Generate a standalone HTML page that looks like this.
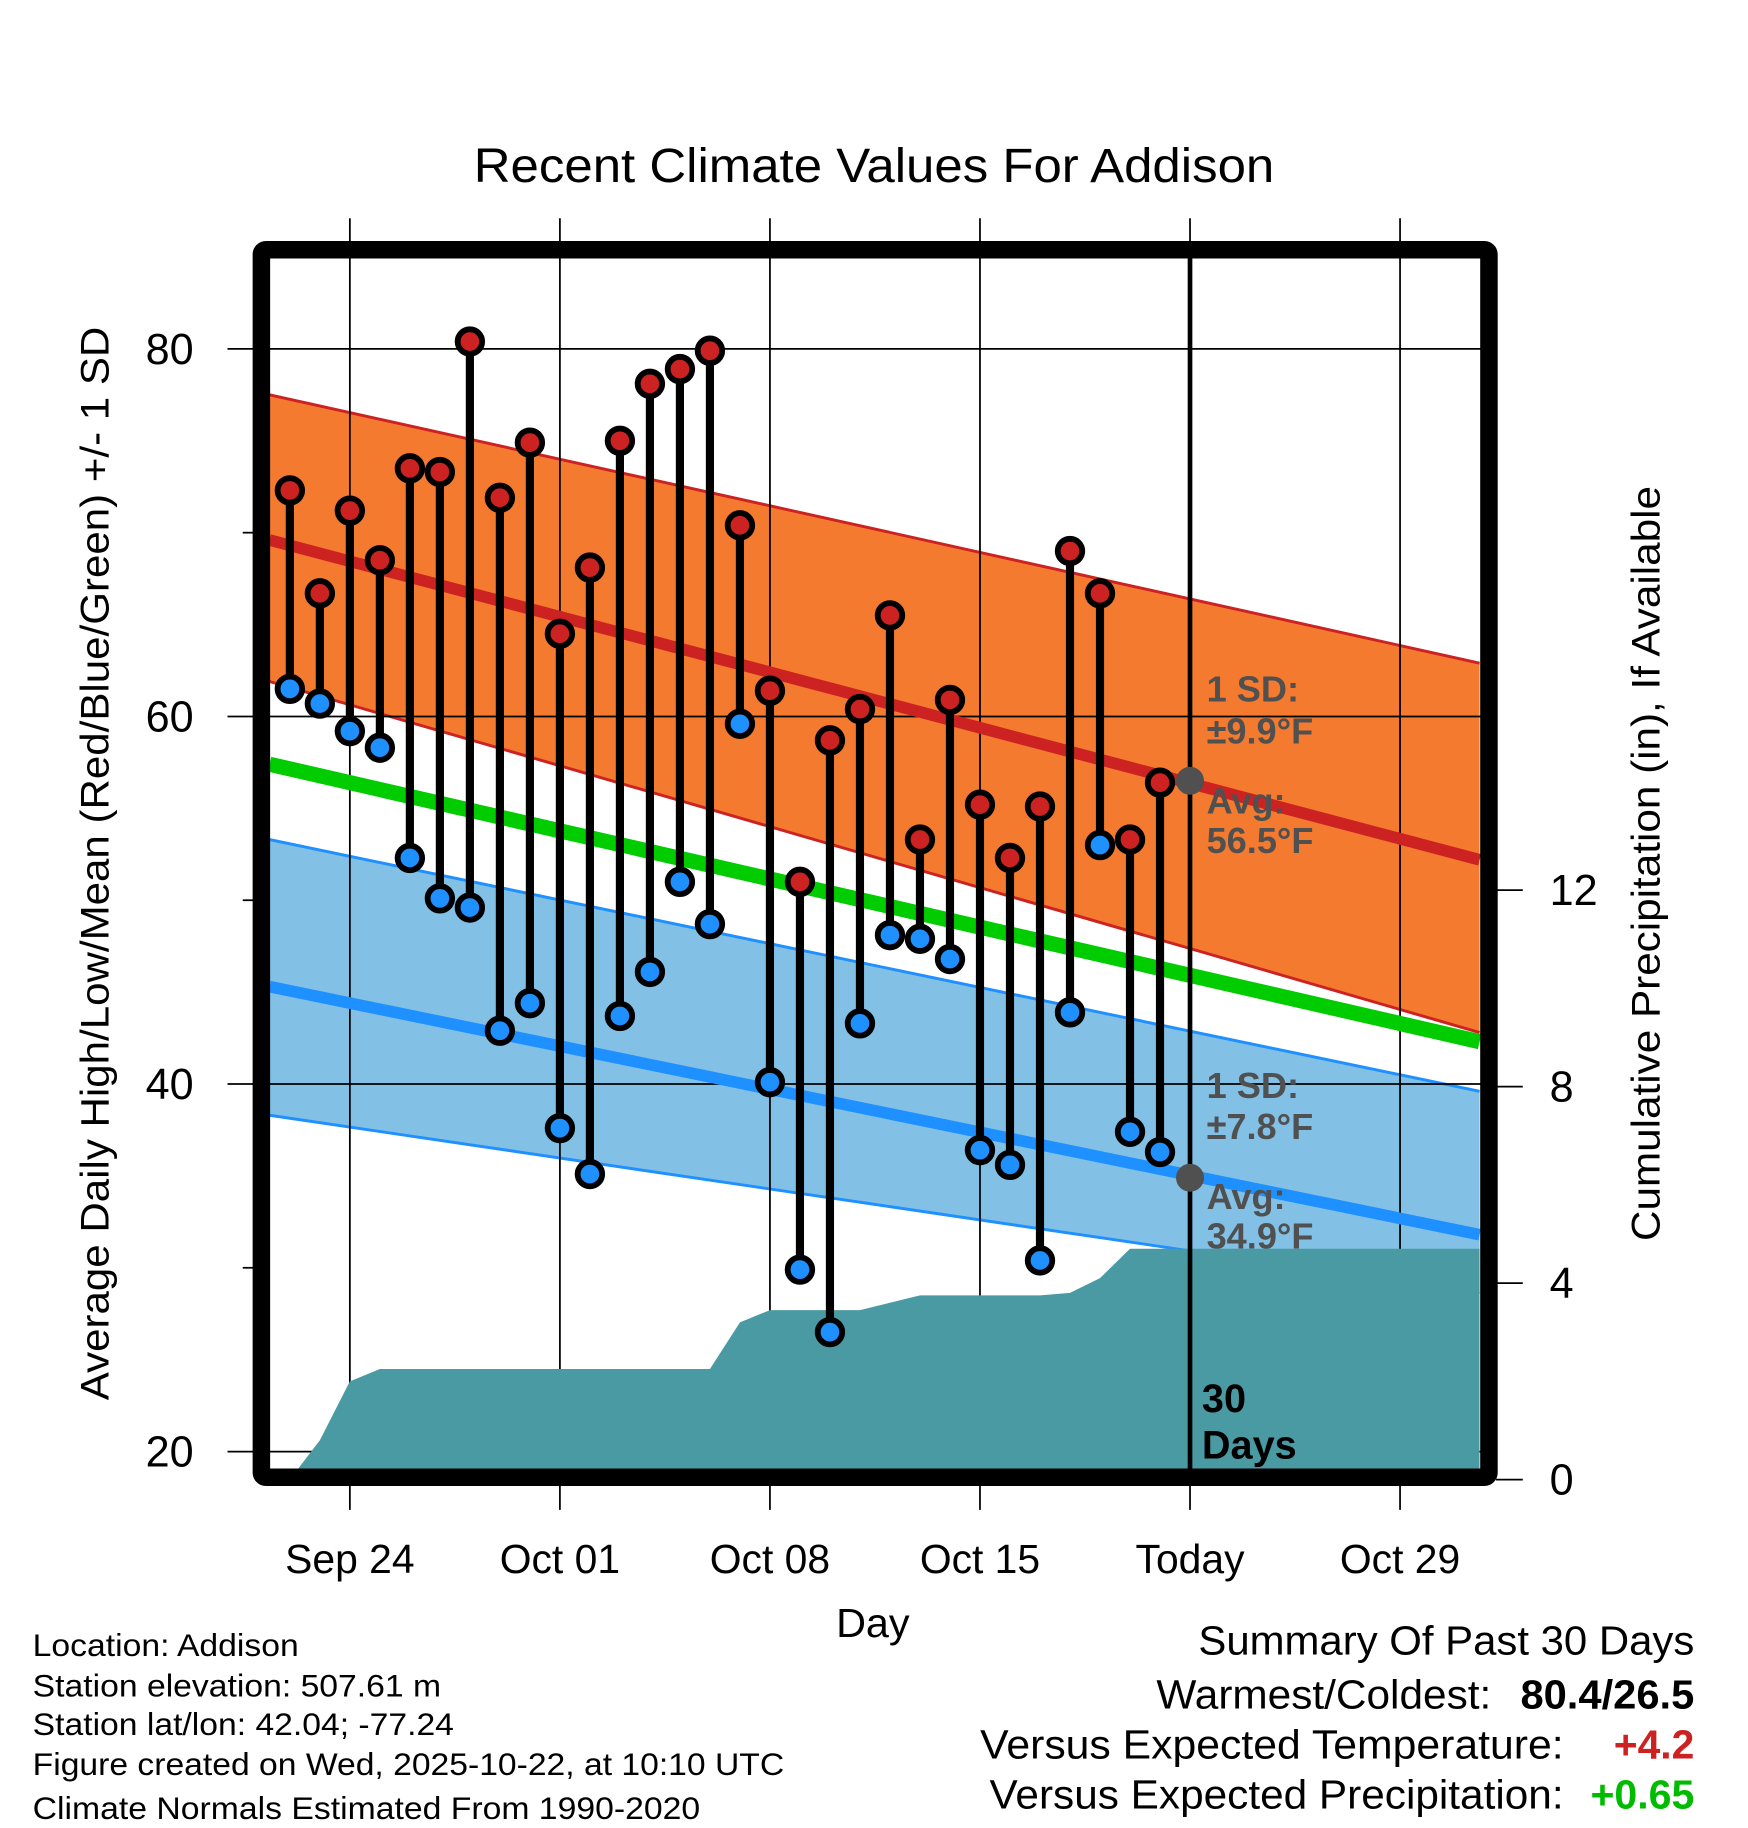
<!DOCTYPE html>
<html><head><meta charset="utf-8"><style>
html,body{margin:0;padding:0;background:#fff}
svg{display:block}
text{font-family:"Liberation Sans",Arial,sans-serif}
</style></head><body>
<svg id="chart" width="1748" height="1828" viewBox="0 0 1498 1566.6" preserveAspectRatio="none" xmlns="http://www.w3.org/2000/svg">
<text x="749" y="156" font-size="41" text-anchor="middle" textLength="686" lengthAdjust="spacingAndGlyphs">Recent Climate Values For Addison</text>
<g id="g"></g>
</svg>
<script>
const dayLabels = ["Sep 24","Oct 01","Oct 08","Oct 15","Today","Oct 29"];
const dayLabelIdx = [2,9,16,23,30,37];
const highs = [72.3,66.7,71.2,68.5,73.5,73.3,80.4,71.9,74.9,64.5,68.1,75.0,78.1,78.9,79.9,70.4,61.4,51.0,58.7,60.4,65.5,53.3,60.9,55.2,52.3,55.1,69.0,66.7,53.3,56.4];
const lows = [61.5,60.7,59.2,58.3,52.3,50.1,49.6,42.9,44.4,37.6,35.1,43.7,46.1,51.0,48.7,59.6,40.1,29.9,26.5,43.3,48.1,47.9,46.8,36.4,35.6,30.4,43.9,53.0,37.4,36.3];
const precip = [0,0.8,2.0,2.25,2.25,2.25,2.25,2.25,2.25,2.25,2.25,2.25,2.25,2.25,2.25,3.2,3.45,3.45,3.45,3.45,3.6,3.75,3.75,3.75,3.75,3.75,3.8,4.1,4.7,4.7];
const normHigh = [69.6,52.2];
const normHighUp = [77.5,62.9];
const normHighLo = [61.9,42.8];
const normMean = [57.4,42.3];
const normLow = [45.3,31.8];
const normLowUp = [53.3,39.6];
const normLowLo = [38.3,28.6];
const tempTicks = [80,60,40,20];
const tempMinor = [70,50,30];
const precipTicks = [0,4,8,12];

const NS="http://www.w3.org/2000/svg";
const g=document.getElementById('g');
const L=231,R=1268,T=221,B=1259;
const x=d=>248.4+d*25.714;
const y=t=>299+(80-t)*15.75;
const yp=p=>1268-p*42.1;
function el(tag,attrs,parent){const e=document.createElementNS(NS,tag);for(const k in attrs)e.setAttribute(k,attrs[k]);(parent||g).appendChild(e);return e;}
function band(up,lo,fill,edge,name){
  const e=el('polygon',{points:`${L},${y(up[0])} ${R},${y(up[1])} ${R},${y(lo[1])} ${L},${y(lo[0])}`,fill:fill});
  
  
  [up,lo].forEach(a=>{const l=el('line',{x1:L,y1:y(a[0]),x2:R,y2:y(a[1]),stroke:edge,'stroke-width':2.5});
    
    });
}
band(normHighUp,normHighLo,'#f47a30','#cc2222','high-sd-band');
band(normLowUp,normLowLo,'#82c0e6','#1e90ff','low-sd-band');
tempTicks.forEach(t=>{const l=el('line',{x1:195,y1:y(t),x2:1282,y2:y(t),stroke:'#000','stroke-width':1.5});
  
  
  const tx=el('text',{x:166,y:y(t)+13,'font-size':37,'text-anchor':'end'});tx.textContent=t;
  
  });
tempMinor.forEach(t=>{const l=el('line',{x1:208,y1:y(t),x2:218,y2:y(t),stroke:'#000','stroke-width':1.5});
  
  });
dayLabelIdx.forEach((d,i)=>{const l=el('line',{x1:x(d),y1:187,x2:x(d),y2:1294,stroke:'#000','stroke-width':1.5});
  
  
  const tx=el('text',{x:x(d),y:1348,'font-size':35,'text-anchor':'middle'});tx.textContent=dayLabels[i];
  
  });
precipTicks.forEach(p=>{const l=el('line',{x1:1282,y1:yp(p),x2:1305,y2:yp(p),stroke:'#000','stroke-width':1.5});
  
  
  const tx=el('text',{x:1328,y:yp(p)+13,'font-size':37});tx.textContent=p;
  
  });
[[normHigh,'#cc2222',10,'avg-high-line'],[normMean,'#00cc00',13,'avg-mean-line'],[normLow,'#1e90ff',10,'avg-low-line']].forEach(([a,c,w,n])=>{
  const l=el('line',{x1:L,y1:y(a[0]),x2:R,y2:y(a[1]),stroke:c,'stroke-width':w});
  
  });
let pts=[`${x(0)},${yp(0)}`];
precip.forEach((p,i)=>pts.push(`${x(i)},${yp(p)}`));
pts.push(`${R},${yp(precip[precip.length-1])}`,`${R},${yp(0)}`);
const cp=el('clipPath',{id:'pc'});el('rect',{x:L,y:T,width:R-L,height:B-T},cp);
const pa=el('polygon',{points:pts.join(' '),fill:'#4a9aa3','clip-path':'url(#pc)'});


const tl=el('line',{x1:x(30),y1:T,x2:x(30),y2:B,stroke:'#000','stroke-width':4});


highs.forEach((h,i)=>{
  const s=el('line',{x1:x(i),y1:y(h),x2:x(i),y2:y(lows[i]),stroke:'#000','stroke-width':7});
  
  
  const c1=el('circle',{cx:x(i),cy:y(h),r:10.5,fill:'#cc2222',stroke:'#000','stroke-width':5});
  
  
  const c2=el('circle',{cx:x(i),cy:y(lows[i]),r:10.5,fill:'#1e90ff',stroke:'#000','stroke-width':5});
  
  
});
[[56.5,'today-high-avg-dot'],[34.9,'today-low-avg-dot']].forEach(([t,n])=>{const c=el('circle',{cx:x(30),cy:y(t),r:12,fill:'#505050'});
  
  });
[['1 SD:',601],['±9.9°F',637],['Avg:',697],['56.5°F',731],['1 SD:',941],['±7.8°F',976],['Avg:',1036],['34.9°F',1070]].forEach(([s,yy])=>{
  const tx=el('text',{x:1034,y:yy,'font-size':31,'font-weight':'bold',fill:'#505050'});tx.textContent=s;
  
  });
[['30',1210],['Days',1250]].forEach(([s,yy])=>{const tx=el('text',{x:1030,y:yy,'font-size':34,'font-weight':'bold'});tx.textContent=s;
  
  });
const fr=el('rect',{x:224,y:214,width:1052,height:1052,fill:'none',stroke:'#000','stroke-width':15,rx:4});


const at=[['Day',748,1403,0,35,'x-axis-title',63],['Average Daily High/Low/Mean (Red/Blue/Green) +/- 1 SD',93,740,-90,34,'y-axis-title',920],['Cumulative Precipitation (in), If Available',1422,740,-90,34,'right-axis-title',647]];
at.forEach(([s,xx,yy,r,f,n,len])=>{const tx=el('text',{x:xx,y:yy,'font-size':f,'text-anchor':'middle',transform:`rotate(${r} ${xx} ${yy})`,textLength:len,lengthAdjust:'spacingAndGlyphs'});tx.textContent=s;
  
  });
const info=['Location: Addison','Station elevation: 507.61 m','Station lat/lon: 42.04; -77.24','Figure created on Wed, 2025-10-22, at 10:10 UTC','Climate Normals Estimated From 1990-2020'];
const infoLen=[228,350,361,644,572];
info.forEach((s,i)=>{
  const tx=el('text',{x:28,y:[1419,1454,1487,1521,1559][i],'font-size':27,textLength:infoLen[i],lengthAdjust:'spacingAndGlyphs'});tx.textContent=s;
  
  });
const sm=[['Summary Of Past 30 Days',1452,1418,'normal','#000',425],['Warmest/Coldest:',1278,1464,'normal','#000',287],['80.4/26.5',1452,1464,'bold','#000',149],['Versus Expected Temperature:',1340,1507,'normal','#000',500],['+4.2',1452,1507,'bold','#cc2222',69],['Versus Expected Precipitation:',1340,1550,'normal','#000',492],['+0.65',1452,1550,'bold','#00bb00',89]];
sm.forEach(([s,xx,yy,w,c,len])=>{const tx=el('text',{x:xx,y:yy,'font-size':35,'text-anchor':'end','font-weight':w,fill:c,textLength:len,lengthAdjust:'spacingAndGlyphs'});tx.textContent=s;
  
  });
</script>
</body></html>
